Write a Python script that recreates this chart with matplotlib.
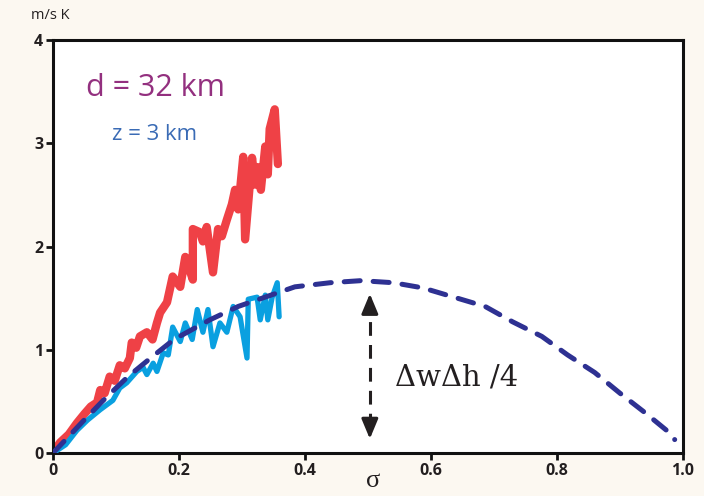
import numpy as np
import matplotlib.pyplot as plt

# red trace (d = 32 km)
red_sigma = [0, 0.011, 0.025, 0.038, 0.05, 0.06, 0.070, 0.075, 0.082, 0.090, 0.098, 0.106,
             0.114, 0.122, 0.125, 0.132, 0.138, 0.149, 0.158, 0.165, 0.170, 0.181, 0.190,
             0.202, 0.210, 0.222, 0.222, 0.233, 0.238, 0.244, 0.254, 0.262, 0.268, 0.276,
             0.284, 0.289, 0.294, 0.302, 0.305, 0.316, 0.321, 0.325, 0.330, 0.337, 0.341,
             0.344, 0.352, 0.357]
red_val = [0, 0.10, 0.18, 0.29, 0.38, 0.45, 0.49, 0.61, 0.58, 0.74, 0.70, 0.85,
           0.82, 0.92, 1.07, 1.02, 1.13, 1.17, 1.10, 1.26, 1.36, 1.46, 1.71,
           1.61, 1.90, 1.68, 2.17, 2.14, 2.05, 2.19, 1.75, 2.17, 2.10, 2.26,
           2.41, 2.55, 2.36, 2.87, 2.07, 2.86, 2.60, 2.77, 2.55, 2.97, 2.70,
           3.14, 3.33, 2.80]

# blue trace (z = 3 km)
blue_sigma = [0, 0.020, 0.038, 0.055, 0.075, 0.095, 0.106, 0.117, 0.133, 0.143, 0.149,
              0.159, 0.165, 0.175, 0.183, 0.190, 0.202, 0.210, 0.221, 0.229, 0.238,
              0.246, 0.254, 0.265, 0.276, 0.286, 0.297, 0.308, 0.310, 0.324, 0.329,
              0.337, 0.341, 0.348, 0.356, 0.359]
blue_val = [0, 0.08, 0.22, 0.32, 0.42, 0.51, 0.63, 0.68, 0.79, 0.83, 0.76,
            0.87, 0.79, 0.97, 0.95, 1.22, 1.08, 1.26, 1.10, 1.39, 1.17,
            1.39, 1.03, 1.26, 1.17, 1.42, 1.32, 0.92, 1.49, 1.51, 1.29,
            1.53, 1.29, 1.51, 1.65, 1.32]

# dashed theory curve
theory_sigma = [0, 0.048, 0.083, 0.119, 0.157, 0.192, 0.249, 0.294, 0.384, 0.44, 0.489,
                0.54, 0.587, 0.686, 0.73, 0.776, 0.817, 0.86, 0.90, 0.94, 0.98, 0.987]
theory_val = [0, 0.31, 0.53, 0.74, 0.93, 1.10, 1.29, 1.42, 1.61, 1.65, 1.67,
              1.65, 1.60, 1.42, 1.27, 1.13, 0.95, 0.78, 0.58, 0.39, 0.19, 0.13]

xticks = [0, 0.2, 0.4, 0.6, 0.8, 1.0]
xtick_labels = ['0', '0.2', '0.4', '0.6', '0.8', '1.0']
yticks = [0, 1, 2, 3, 4]

bg = '#fcf8f1'
fig = plt.figure(figsize=(7.04, 4.96), dpi=100, facecolor=bg)
ax = fig.add_axes([0.0753, 0.0867, 0.8947, 0.8323])
ax.set_facecolor('white')

ax.plot(red_sigma, red_val, color='#ef4146', lw=6, solid_joinstyle='round',
        solid_capstyle='round', zorder=2)
ax.plot(blue_sigma, blue_val, color='#0aa0e0', lw=3.8, solid_joinstyle='round',
        solid_capstyle='round', zorder=3)
ax.plot(theory_sigma, theory_val, color='#2e3192', lw=3.6, dashes=(3.2, 2.6),
        dash_capstyle='round', zorder=4)

# double arrow at sigma = 0.5
ax.plot([0.503, 0.503], [0.25, 1.42], color='#231f20', lw=2.2, dashes=(4.5, 3), zorder=5)
ax.annotate('', xy=(0.503, 1.57), xytext=(0.503, 1.35),
            arrowprops=dict(arrowstyle='-|>,head_length=1.2,head_width=0.5',
                            color='#231f20', lw=2.2), zorder=6)
ax.annotate('', xy=(0.503, 0.11), xytext=(0.503, 0.33),
            arrowprops=dict(arrowstyle='-|>,head_length=1.2,head_width=0.5',
                            color='#231f20', lw=2.2), zorder=6)

ax.text(0.543, 0.73, 'ΔwΔh /4', family='DejaVu Serif', fontsize=21,
        color='#231f20', va='center', ha='left')
ax.text(0.052, 3.54, 'd = 32 km', family='Open Sans', fontsize=22,
        color='#93307f', va='center', ha='left')
ax.text(0.094, 3.09, 'z = 3 km', family='Open Sans', fontsize=16,
        color='#3a6bb5', va='center', ha='left')

ax.set_xlim(0, 1)
ax.set_ylim(0, 4)
ax.set_xticks(xticks)
ax.set_xticklabels(xtick_labels)
ax.set_yticks(yticks)
for s in ax.spines.values():
    s.set_linewidth(2.2)
    s.set_color('#111111')
ax.tick_params(direction='out', length=5, width=2, colors='#111111', pad=2,
               labelsize=11.5, labelcolor='#231f20')
for lab in ax.get_xticklabels() + ax.get_yticklabels():
    lab.set_family('Open Sans')
    lab.set_fontweight('bold')

fig.text(0.072, 0.968, 'm/s K', family='Open Sans', fontsize=10.5,
         color='#231f20', ha='center', va='center')
fig.text(0.53, 0.03, 'σ', family='Liberation Serif', fontsize=19,
         color='#231f20', ha='center', va='center')

fig.savefig('out.png', dpi=100, facecolor=bg)
